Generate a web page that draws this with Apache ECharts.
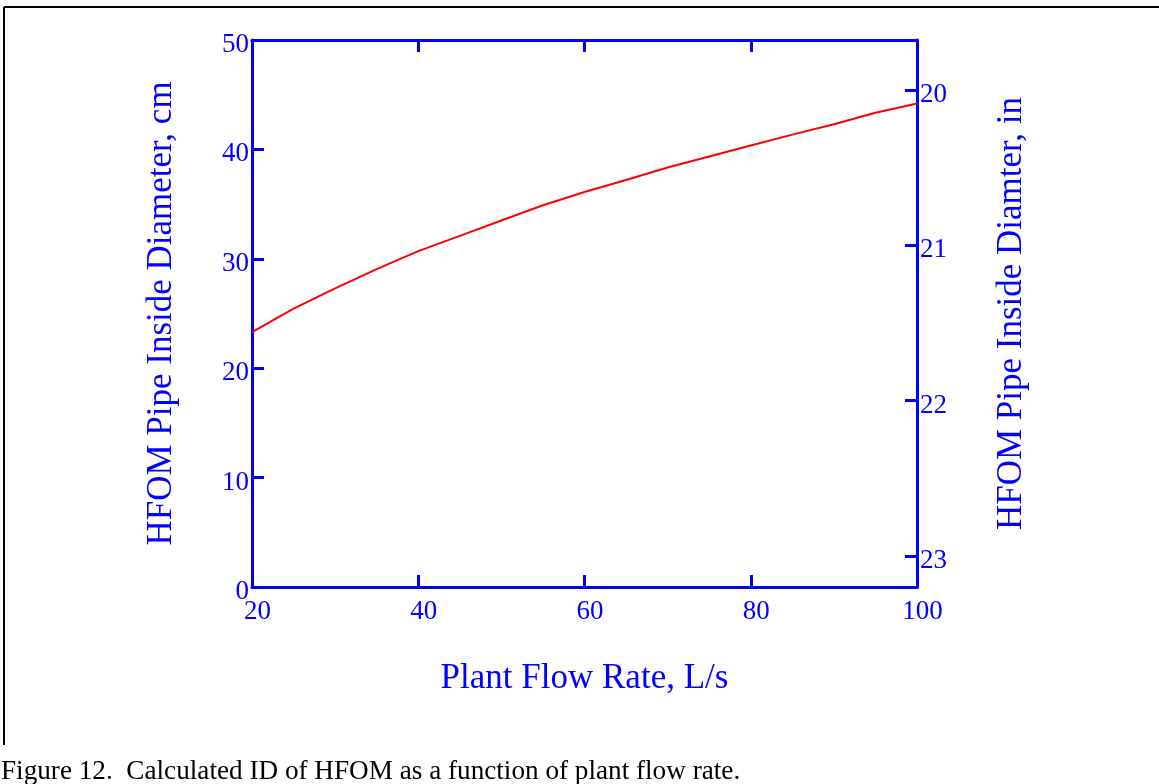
<!DOCTYPE html>
<html>
<head>
<meta charset="utf-8">
<script src="https://cdn.jsdelivr.net/npm/echarts@6/dist/echarts.min.js"></script>
<style>
html,body{margin:0;padding:0;background:#fff;}
#chart{width:1159px;height:784px;}
</style>
</head>
<body>
<div id="chart"></div>
<script>
// Data
const flowRate = [20, 25, 30, 35, 40, 45, 50, 55, 60, 65, 70, 75, 80, 85, 90, 95, 100];
const diameterCm = [23.3, 25.45, 27.3, 29.05, 30.7, 32.1, 33.5, 34.9, 36.1, 37.2, 38.35, 39.35, 40.35, 41.35, 42.3, 43.35, 44.2];
const rightTickValues = [20, 21, 22, 23];

const BLUE = '#0000ff';
const FONT = "'Liberation Serif', 'Times New Roman', serif";

const chart = echarts.init(document.getElementById('chart'), null, {renderer: 'canvas'});

const axisLineStyle = {show: true, lineStyle: {color: BLUE, width: 3}};
const tickStyle = {show: true, inside: true, length: 12, lineStyle: {color: BLUE, width: 3}};

const option = {
  backgroundColor: '#ffffff',
  animation: false,
  grid: {left: 252, right: 242, top: 40, bottom: 197, containLabel: false},
  xAxis: [
    {
      type: 'value', position: 'bottom', min: 20, max: 100, interval: 20,
      axisLine: axisLineStyle, axisTick: tickStyle, splitLine: {show: false},
      axisLabel: {color: BLUE, fontFamily: FONT, fontSize: 27, margin: 11, padding: [0, 0, 0, 11]},
      name: 'Plant Flow Rate, L/s', nameLocation: 'middle', nameGap: 74,
      nameTextStyle: {color: BLUE, fontFamily: FONT, fontSize: 35}
    },
    {
      type: 'value', position: 'top', min: 20, max: 100, interval: 20,
      axisLine: axisLineStyle, axisTick: tickStyle, splitLine: {show: false},
      axisLabel: {show: false}
    }
  ],
  yAxis: [
    {
      type: 'value', position: 'left', min: 0, max: 50, interval: 10,
      axisLine: axisLineStyle, axisTick: tickStyle, splitLine: {show: false},
      axisLabel: {color: BLUE, fontFamily: FONT, fontSize: 27, margin: 3,
        verticalAlign: 'top', lineHeight: 10},
      name: 'HFOM Pipe Inside Diameter, cm', nameLocation: 'middle', nameGap: 73,
      nameRotate: 90,
      nameTextStyle: {color: BLUE, fontFamily: FONT, fontSize: 35}
    },
    {
      type: 'value', position: 'right', min: 19.678, max: 23.2, inverse: true,
      axisLine: axisLineStyle,
      axisTick: Object.assign({}, tickStyle, {customValues: rightTickValues}),
      splitLine: {show: false},
      axisLabel: {color: BLUE, fontFamily: FONT, fontSize: 27, margin: 3,
        verticalAlign: 'top', lineHeight: 10, customValues: rightTickValues},
      name: 'HFOM Pipe Inside Diamter, in', nameLocation: 'middle', nameGap: 77,
      nameRotate: 90,
      nameTextStyle: {color: BLUE, fontFamily: FONT, fontSize: 35}
    }
  ],
  series: [
    {
      type: 'line',
      xAxisIndex: 0, yAxisIndex: 0,
      data: flowRate.map((x, i) => [x, diameterCm[i]]),
      showSymbol: false,
      lineStyle: {color: '#ff0000', width: 2},
      z: 1
    }
  ],
  graphic: [
    {type: 'line', shape: {x1: 4, y1: 7, x2: 1159, y2: 7}, style: {stroke: '#000', lineWidth: 2}},
    {type: 'line', shape: {x1: 4, y1: 7, x2: 4, y2: 745}, style: {stroke: '#000', lineWidth: 2}},
    {type: 'text', left: 1, top: 758,
      style: {text: 'Figure 12.  Calculated ID of HFOM as a function of plant flow rate.',
        fill: '#000', font: "27.2px 'Liberation Serif', 'Times New Roman', serif"}}
  ]
};
chart.setOption(option);
</script>
</body>
</html>
